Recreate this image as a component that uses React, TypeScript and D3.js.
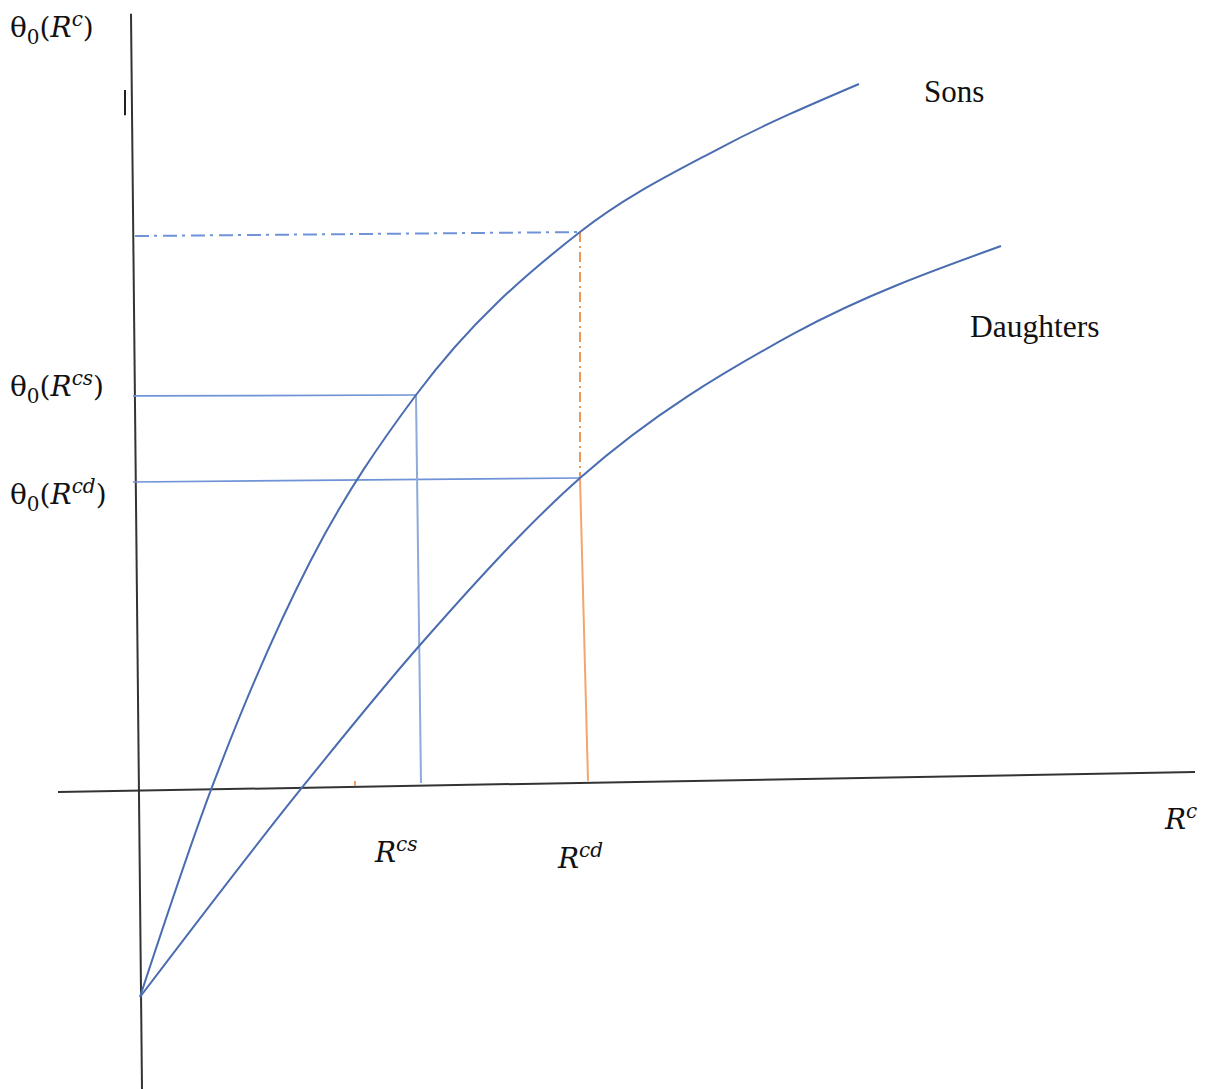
import React from "react";
import * as d3 from "d3";

// Abstract units: x = R^c, y = θ0(R^c)
const sonsX = [0, 0.717, 1.71, 2.76, 4.4, 5.8, 7.19];
const sonsY = [-2.957, 0.029, 3.286, 5.643, 7.971, 9.171, 10.086];
const daughtersX = [0, 1.617, 2.8, 4.4, 6.55, 8.61];
const daughtersY = [-2.957, 0.029, 2.071, 4.457, 6.529, 7.771];

const rcs = 2.76;
const rcd = 4.4;
const thetaTop = 7.971;
const thetaCs = 5.643;
const thetaCd = 4.457;

const seriesLabels = ["Sons", "Daughters"];

const W = 1211;
const H = 1089;

const x = d3.scaleLinear().domain([0, 10]).range([140, 1140]);
const y = d3.scaleLinear().domain([0, 10]).range([790, 90]);

const line = d3
  .line<[number, number]>()
  .x((d) => x(d[0]))
  .y((d) => y(d[1]))
  .curve(d3.curveMonotoneX);

const seg = d3
  .line<[number, number]>()
  .x((d) => x(d[0]))
  .y((d) => y(d[1]));

const zip = (a: number[], b: number[]) => a.map((v, i) => [v, b[i]] as [number, number]);

const MathLabel = ({ px, py, sup, theta }: { px: number; py: number; sup: string; theta: boolean }) => (
  <text x={px} y={py} fontFamily="'DejaVu Serif', 'Liberation Serif', serif" fontSize={28} fill="#111">
    {theta ? (
      <>
        <tspan>θ</tspan>
        <tspan fontSize={20} dy={7}>0</tspan>
        <tspan dy={-7}>(</tspan>
      </>
    ) : null}
    <tspan fontStyle="italic">R</tspan>
    <tspan fontStyle="italic" fontSize={20} dy={-11}>{sup}</tspan>
    {theta ? <tspan dy={11}>)</tspan> : null}
  </text>
);

export default function App() {
  const blue = "#4a6cb0";
  const lightBlue = "#6f93d6";
  const paleBlue = "#8eaadc";
  const orange = "#ed7d31";
  const paleOrange = "#f4a46c";
  return (
    <svg width={W} height={H} style={{ position: "absolute", left: 0, top: 0, background: "#fff" }}>
      {/* axes */}
      <path d={seg([[-0.09, 11.09], [0.02, -4.27]])!} stroke="#333" strokeWidth={2} fill="none" />
      <path d={seg([[-0.82, -0.03], [10.55, 0.257]])!} stroke="#333" strokeWidth={2} fill="none" />
      <path d={seg([[-0.15, 10.0], [-0.15, 9.64]])!} stroke="#222" strokeWidth={2} fill="none" />
      {/* reference lines */}
      <path d={seg([[-0.05, thetaTop - 0.057], [rcd, thetaTop]])!} stroke={lightBlue} strokeWidth={2} strokeDasharray="14 5 3 6" fill="none" />
      <path d={seg([[-0.07, thetaCs - 0.014], [rcs, thetaCs]])!} stroke={lightBlue} strokeWidth={1.7} fill="none" />
      <path d={seg([[-0.07, thetaCd - 0.057], [rcd, thetaCd]])!} stroke={lightBlue} strokeWidth={1.7} fill="none" />
      <path d={seg([[rcs, thetaCs], [rcs + 0.05, 0.1]])!} stroke={paleBlue} strokeWidth={2} fill="none" />
      <path d={seg([[rcd, thetaTop], [rcd, thetaCd]])!} stroke={orange} strokeWidth={1.6} strokeDasharray="10 4 2 4" fill="none" />
      <path d={seg([[rcd, thetaCd], [rcd + 0.08, 0.13]])!} stroke={paleOrange} strokeWidth={2} fill="none" />
      <path d={seg([[2.15, 0.13], [2.15, 0.06]])!} stroke={orange} strokeWidth={1.5} fill="none" />
      {/* curves */}
      <path d={line(zip(sonsX, sonsY))!} stroke={blue} strokeWidth={2} fill="none" />
      <path d={line(zip(daughtersX, daughtersY))!} stroke={blue} strokeWidth={2} fill="none" />
      {/* labels */}
      <text x={924} y={102} fontFamily="'Liberation Serif', serif" fontSize={31} fill="#111">{seriesLabels[0]}</text>
      <text x={970} y={337} fontFamily="'Liberation Serif', serif" fontSize={31.5} fill="#111">{seriesLabels[1]}</text>
      <MathLabel px={10} py={37} sup="c" theta />
      <MathLabel px={10} py={396} sup="cs" theta />
      <MathLabel px={10} py={504} sup="cd" theta />
      <MathLabel px={x(rcs) - 41} py={862} sup="cs" theta={false} />
      <MathLabel px={x(rcd) - 22} py={868} sup="cd" theta={false} />
      <MathLabel px={1165} py={829} sup="c" theta={false} />
    </svg>
  );
}
